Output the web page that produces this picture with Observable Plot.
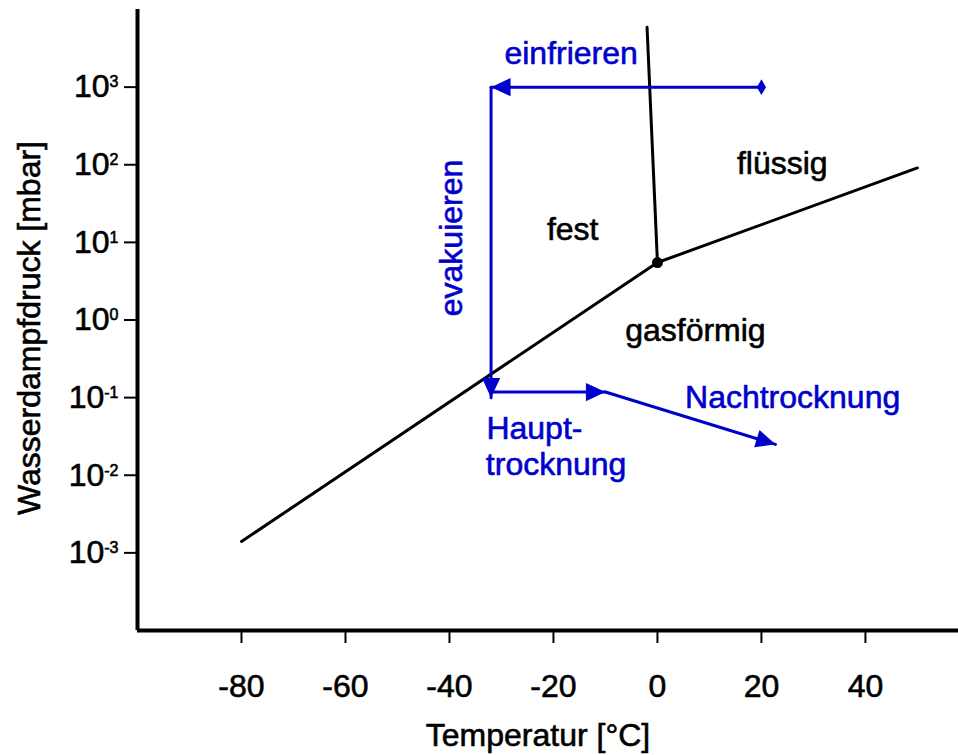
<!DOCTYPE html>
<html><head><meta charset="utf-8">
<script src="https://cdn.jsdelivr.net/npm/d3@7"></script>
<script src="https://cdn.jsdelivr.net/npm/@observablehq/plot@0.6"></script>
<style>html,body{margin:0;padding:0;background:#fff}svg{display:block}</style>
</head><body><div id="chart"></div>
<script>
// ---- data ----
const xTicks = [-80, -60, -40, -20, 0, 20, 40];
const yTickExponents = [-3, -2, -1, 0, 1, 2, 3];

// phase boundaries (temperature °C, pressure mbar)
const sublimationT = [-80, 0];
const sublimationP = [0.0014, 5.5];
const vaporizationT = [0, 50];
const vaporizationP = [5.5, 91];
const meltingT = [0, -2];
const meltingP = [5.5, 5900];
const tripleT = [0];
const tripleP = [5.5];

// freeze-drying process path
const freezeT = [20, -32];
const freezeP = [1000, 1000];
const evacuateT = [-32, -32];
const evacuateP = [1000, 0.1];
const primaryT = [-32, -10];
const primaryP = [0.118, 0.118];
const secondaryT = [-10, 22.7];
const secondaryP = [0.118, 0.025];

// labels
const blueLabels = ["einfrieren", "Nachtrocknung"];
const blueLabelT = [-16.6, 26];
const blueLabelP = [2700, 0.101];
const blueLeftLabels = ["Haupt-", "trocknung"];
const blueLeftLabelT = [-32.9, -33];
const blueLeftLabelP = [0.0393, 0.01346];
const rotatedLabels = ["evakuieren"];
const rotatedLabelT = [-39.6];
const rotatedLabelP = [11.4];
const phaseLabels = ["fest", "flüssig", "gasförmig"];
const phaseLabelT = [-16.3, 24, 7.3];
const phaseLabelP = [14.5, 103, 0.73];

const xTitle = "Temperatur [°C]";
const yTitle = "Wasserdampfdruck [mbar]";

// ---- layout ----
const W = 958, H = 755, mL = 137, mR = 0, mT = 9, mB = 125;
const xDomain = [-100, 57.9];
const yDomain = [1e-4, 1e4];
const BLUE = "#0000cc";
const FONT = '"Liberation Sans", Arial, Helvetica, sans-serif';

const pts = (T, P) => T.map((t, i) => ({T: t, P: P[i]}));
const lbl = (L, T, P) => L.map((s, i) => ({s, T: T[i], P: P[i]}));

// replicate scales to orient arrowheads
const xs = d3.scaleLinear(xDomain, [mL, W - mR]);
const ys = d3.scaleLog(yDomain, [H - mB, mT]);
function head(T, P) {
  const n = T.length;
  const dx = xs(T[n - 1]) - xs(T[n - 2]);
  const dy = ys(P[n - 1]) - ys(P[n - 2]);
  return {T: T[n - 1], P: P[n - 1], a: Math.atan2(dx, -dy) * 180 / Math.PI};
}
const heads = [head(freezeT, freezeP), head(evacuateT, evacuateP), head(primaryT, primaryP), head(secondaryT, secondaryP)];

const arrowHead = {
  draw(ctx, size) {
    const r = Math.sqrt(size / Math.PI);
    ctx.moveTo(0, 0);
    ctx.lineTo(1.1 * r, 2.35 * r);
    ctx.lineTo(-1.1 * r, 2.35 * r);
    ctx.closePath();
  }
};

const textBase = {x: "T", y: "P", text: "s", fontSize: 32, fontFamily: FONT, strokeWidth: 0.6, paintOrder: "stroke"};

const svg = Plot.plot({
  width: W, height: H,
  marginLeft: mL, marginRight: mR, marginTop: mT, marginBottom: mB,
  style: {fontFamily: FONT, background: "white", color: "black"},
  x: {domain: xDomain},
  y: {type: "log", domain: yDomain},
  marks: [
    Plot.axisX(xTicks, {tickSize: 13, tickPadding: 31, tickFormat: d => `${d}`, fontSize: 32, label: null, strokeWidth: 2}),
    Plot.axisY(yTickExponents.map(e => Math.pow(10, e)), {tickSize: 13, tickPadding: 6, tickFormat: d => String(Math.round(Math.log10(d))), fontSize: 32, label: null, strokeWidth: 2}),
    Plot.ruleX([xDomain[0]], {strokeWidth: 4}),
    Plot.ruleY([yDomain[0]], {strokeWidth: 4}),
    Plot.line(pts(sublimationT, sublimationP), {x: "T", y: "P", stroke: "black", strokeWidth: 3}),
    Plot.line(pts(vaporizationT, vaporizationP), {x: "T", y: "P", stroke: "black", strokeWidth: 3}),
    Plot.line(pts(meltingT, meltingP), {x: "T", y: "P", stroke: "black", strokeWidth: 3}),
    Plot.line(pts(freezeT, freezeP), {x: "T", y: "P", stroke: BLUE, strokeWidth: 3}),
    Plot.line(pts(evacuateT, evacuateP), {x: "T", y: "P", stroke: BLUE, strokeWidth: 3}),
    Plot.line(pts(primaryT, primaryP), {x: "T", y: "P", stroke: BLUE, strokeWidth: 3}),
    Plot.line(pts(secondaryT, secondaryP), {x: "T", y: "P", stroke: BLUE, strokeWidth: 3}),
    Plot.dot(heads, {x: "T", y: "P", symbol: arrowHead, r: 8.3, fill: BLUE, stroke: null, rotate: "a"}),
    Plot.dot([{T: freezeT[0], P: freezeP[0]}], {x: "T", y: "P", symbol: "diamond", r: 4.8, fill: BLUE}),
    Plot.dot(pts(tripleT, tripleP), {x: "T", y: "P", r: 5.5, fill: "black"}),
    Plot.text(lbl(blueLabels, blueLabelT, blueLabelP), {...textBase, fill: BLUE, stroke: BLUE}),
    Plot.text(lbl(blueLeftLabels, blueLeftLabelT, blueLeftLabelP), {...textBase, fill: BLUE, stroke: BLUE, textAnchor: "start"}),
    Plot.text(lbl(rotatedLabels, rotatedLabelT, rotatedLabelP), {...textBase, fill: BLUE, stroke: BLUE, rotate: -90}),
    Plot.text(lbl(phaseLabels, phaseLabelT, phaseLabelP), {...textBase, fill: "black", stroke: "black"})
  ]
});

// superscript exponents on y tick labels
d3.select(svg).selectAll('g[aria-label="y-axis tick label"] text').each(function() {
  const e = this.textContent;
  const t = d3.select(this);
  t.text(null);
  t.append("tspan").text("10");
  t.append("tspan").attr("font-size", 16).attr("dy", -10).text(e);
});
d3.select(svg).selectAll('g[aria-label="x-axis tick label"], g[aria-label="y-axis tick label"]')
  .attr("stroke", "black").attr("stroke-width", 0.6);

// axis titles
const s = d3.select(svg);
s.append("text").attr("x", 538).attr("y", 746).attr("text-anchor", "middle")
  .attr("font-size", 32).attr("font-family", FONT).attr("fill", "black")
  .attr("stroke", "black").attr("stroke-width", 0.6).text(xTitle);
s.append("text").attr("transform", "translate(40,328) rotate(-90)").attr("text-anchor", "middle")
  .attr("font-size", 32).attr("font-family", FONT).attr("fill", "black")
  .attr("stroke", "black").attr("stroke-width", 0.6).text(yTitle);

document.getElementById("chart").appendChild(svg);
</script>
</body></html>
